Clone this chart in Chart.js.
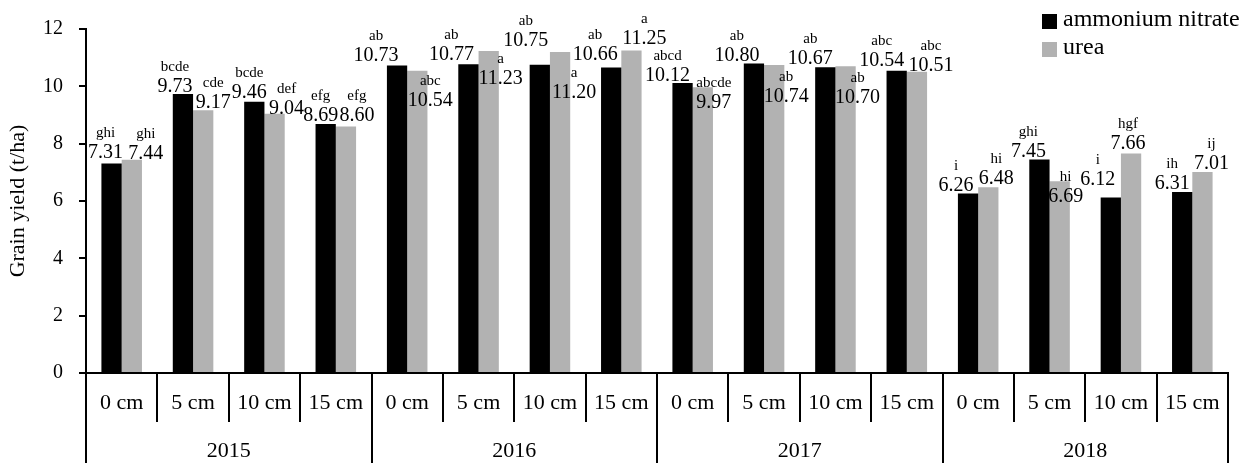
<!DOCTYPE html>
<html>
<head>
<meta charset="utf-8">
<script src="https://cdn.jsdelivr.net/npm/chart.js@4.4.0/dist/chart.umd.min.js"></script>
<style>
  html, body { margin: 0; padding: 0; background: #fff; }
  #wrap { width: 1250px; height: 463px; }
</style>
</head>
<body>
<div id="wrap"><canvas id="chart"></canvas></div>
<script>
const years = ['2015', '2016', '2017', '2018'];
const depths = ['0 cm', '5 cm', '10 cm', '15 cm'];
const yTicks = [0, 2, 4, 6, 8, 10, 12];

const ammoniumNitrate = [7.31, 9.73, 9.46, 8.69, 10.73, 10.77, 10.75, 10.66, 10.12, 10.80, 10.67, 10.54, 6.26, 7.45, 6.12, 6.31];
const urea = [7.44, 9.17, 9.04, 8.60, 10.54, 11.23, 11.20, 11.25, 9.97, 10.74, 10.70, 10.51, 6.48, 6.69, 7.66, 7.01];

// significance letters shown above the values
const anLetters = ['ghi', 'bcde', 'bcde', 'efg', 'ab', 'ab', 'ab', 'ab', 'abcd', 'ab', 'ab', 'abc', 'i', 'ghi', 'i', 'ih'];
const ureaLetters = ['ghi', 'cde', 'def', 'efg', 'abc', 'a', 'a', 'a', 'abcde', 'ab', 'ab', 'abc', 'hi', 'hi', 'hgf', 'ij'];

// label nudges (px, relative to bar top centre), the labels were hand placed in the original
const anDx = [-6, -8, -5, -5, -21, -17, -14, -16, -15, -17, -15, -15, -12, -11, -13, -10];
const anDy = [-12, -9, -11, -10, -11, -11, -26, -14, -9, -9, -10, -12, -10, -9, -20, -10];
const ureaDx = [14, 10, 12, 11, 13, 12, 14, 13, 11, 12, 12, 14, 8, 6, -3, 9];
const ureaDy = [-8, -9, -7, -12, 28, 26, 39, -14, 14, 30, 30, -8, -10, 14, -11, -10];

const FONT = "'Liberation Serif', serif";
const labels = years.flatMap(() => depths);

const overlay = {
  id: 'overlay',
  afterDraw(chart) {
    const ctx = chart.ctx;
    const xs = chart.scales.x;
    const area = chart.chartArea;
    const step = xs.getPixelForValue(1) - xs.getPixelForValue(0);
    ctx.save();

    // category separators under the x axis
    ctx.strokeStyle = '#000';
    ctx.lineWidth = 2;
    for (let i = 0; i <= labels.length; i++) {
      const px = Math.round(xs.getPixelForValue(0) - step / 2 + i * step);
      const bottom = i % depths.length === 0 ? chart.height : area.bottom + 49;
      ctx.beginPath();
      ctx.moveTo(px, area.bottom);
      ctx.lineTo(px, bottom);
      ctx.stroke();
    }

    // year row
    ctx.fillStyle = '#000';
    ctx.font = '22px ' + FONT;
    ctx.textAlign = 'center';
    ctx.textBaseline = 'alphabetic';
    years.forEach((yr, g) => {
      const a = xs.getPixelForValue(g * 4 + 1);
      const b = xs.getPixelForValue(g * 4 + 2);
      ctx.fillText(yr, (a + b) / 2, 457);
    });

    // value labels + letters
    const sets = [
      { vals: ammoniumNitrate, letters: anLetters, dx: anDx, dy: anDy },
      { vals: urea, letters: ureaLetters, dx: ureaDx, dy: ureaDy }
    ];
    sets.forEach((s, d) => {
      const meta = chart.getDatasetMeta(d);
      meta.data.forEach((bar, i) => {
        const cx = bar.x + s.dx[i];
        const cy = bar.y + s.dy[i];
        ctx.font = '20px ' + FONT;
        ctx.fillText(s.vals[i].toFixed(2), cx, cy + 7);
        ctx.font = '15px ' + FONT;
        ctx.fillText(s.letters[i], cx, cy - 14);
      });
    });

    // legend, stacked in the top right corner
    ctx.textAlign = 'left';
    chart.data.datasets.forEach((ds, d) => {
      const top = 14 + d * 28;
      ctx.fillStyle = ds.backgroundColor;
      ctx.fillRect(1042, top, 15, 15);
      ctx.fillStyle = '#000';
      ctx.font = '24px ' + FONT;
      ctx.fillText(ds.label, 1063, top + 12);
    });
    ctx.restore();
  }
};

new Chart(document.getElementById('chart'), {
  type: 'bar',
  data: {
    labels: labels,
    datasets: [
      { label: 'ammonium nitrate', data: ammoniumNitrate, backgroundColor: '#000000' },
      { label: 'urea', data: urea, backgroundColor: '#b2b2b2' }
    ]
  },
  options: {
    responsive: true,
    maintainAspectRatio: false,
    animation: false,
    devicePixelRatio: 1,
    layout: { padding: { top: 29, right: 22, left: 0, bottom: 0 } },
    datasets: { bar: { categoryPercentage: 0.568, barPercentage: 1.0 } },
    plugins: {
      legend: { display: false },
      tooltip: { enabled: false }
    },
    scales: {
      x: {
        offset: true,
        border: { display: true, color: '#000', width: 2 },
        grid: { display: false, drawTicks: false },
        ticks: { color: '#000', font: { family: FONT, size: 22 }, padding: 17, autoSkip: false, maxRotation: 0 },
        afterFit: (s) => { s.height = 90; }
      },
      y: {
        min: 0,
        max: 12,
        afterBuildTicks: (s) => { s.ticks = yTicks.map(v => ({ value: v })); },
        border: { display: true, color: '#000', width: 2 },
        grid: { drawOnChartArea: false, drawTicks: true, tickLength: 7, color: '#000', lineWidth: 2 },
        ticks: { color: '#000', font: { family: FONT, size: 20 }, padding: 16 },
        title: {
          display: true,
          text: 'Grain yield (t/ha)',
          color: '#000',
          font: { family: FONT, size: 22 },
          padding: { top: 5, bottom: 0 }
        },
        afterFit: (s) => { s.width = 86; }
      }
    }
  },
  plugins: [overlay]
});
</script>
</body>
</html>
